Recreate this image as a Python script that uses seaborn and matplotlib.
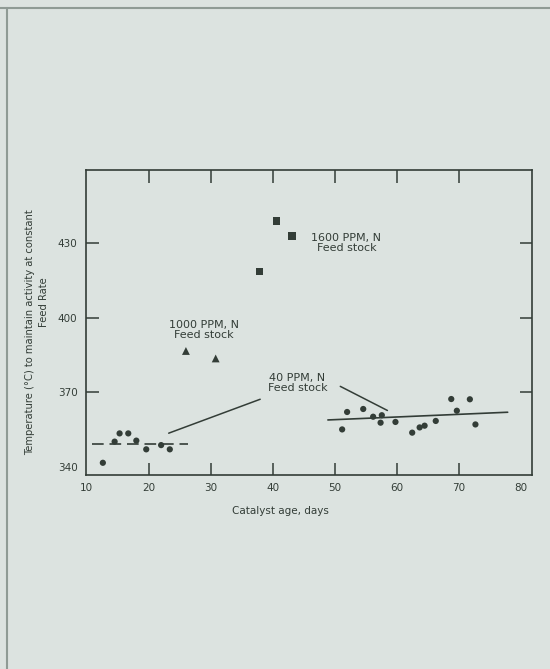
import matplotlib
matplotlib.use("Agg")
import matplotlib.pyplot as plt
import seaborn as sns
import pandas as pd
from matplotlib.lines import Line2D

# ---- data ----
ppm40_age = [12.6, 14.5, 15.3, 16.7, 18.0, 19.6, 22.0, 23.4,
             51.2, 52.0, 54.6, 56.2, 57.4, 57.6, 59.8, 62.5, 63.7, 64.5, 66.3,
             68.8, 69.7, 71.8, 72.7]
ppm40_temp = [341.7, 350.2, 353.5, 353.5, 350.6, 347.1, 348.8, 347.1,
              355.1, 362.1, 363.3, 360.2, 357.8, 360.8, 358.1, 353.8, 355.9, 356.6, 358.5,
              367.3, 362.6, 367.2, 357.1]
ppm1000_age = [26.0, 30.8]
ppm1000_temp = [386.6, 383.6]
ppm1600_age = [37.9, 40.6, 43.1]
ppm1600_temp = [418.4, 438.8, 432.8]

fit_left_age = [10.8, 26.3]
fit_left_temp = [349.4, 349.4]
fit_right_age = [48.9, 77.9]
fit_right_temp = [358.9, 362.0]

x_ticks = [10, 20, 30, 40, 50, 60, 70, 80]
y_ticks = [340, 370, 400, 430]

df = pd.DataFrame({
    "age": ppm40_age + ppm1000_age + ppm1600_age,
    "temp": ppm40_temp + ppm1000_temp + ppm1600_temp,
    "feed": ["40"] * len(ppm40_age) + ["1000"] * len(ppm1000_age) + ["1600"] * len(ppm1600_age),
})

bg = "#dce3e0"
ink = "#333d37"

sns.set_theme(style="white")
plt.rcParams["font.family"] = ["DejaVu Sans"]

fig = plt.figure(figsize=(5.5, 6.69), dpi=100, facecolor=bg)
ax = fig.add_axes([0.156, 0.290, 0.811, 0.456])
ax.set_facecolor(bg)

sns.scatterplot(data=df[df.feed == "40"], x="age", y="temp", marker="o", s=20,
                color=ink, edgecolor="none", ax=ax, legend=False)
sns.scatterplot(data=df[df.feed == "1000"], x="age", y="temp", marker="^", s=32,
                color=ink, edgecolor="none", ax=ax, legend=False)
sns.scatterplot(data=df[df.feed == "1600"], x="age", y="temp", marker="s", s=28,
                color=ink, edgecolor="none", ax=ax, legend=False)

sns.lineplot(x=fit_left_age, y=fit_left_temp, color=ink, lw=1.2,
             linestyle=(0, (7, 3.5)), ax=ax)
sns.lineplot(x=fit_right_age, y=fit_right_temp, color=ink, lw=1.2, ax=ax)

txt_kw = dict(fontsize=8, color=ink, ha="center", va="center", linespacing=1.0)
ax.text(51.9, 429.8, "1600 PPM, N\nFeed stock", **txt_kw)
ax.text(28.9, 395.0, "1000 PPM, N\nFeed stock", **txt_kw)
ax.text(44.0, 373.8, "40 PPM, N\nFeed stock", **txt_kw)

ax.annotate("", xy=(22.8, 353.2), xytext=(38.4, 367.6),
            arrowprops=dict(arrowstyle="-", color=ink, lw=1.1))
ax.annotate("", xy=(58.9, 362.2), xytext=(50.5, 372.9),
            arrowprops=dict(arrowstyle="-", color=ink, lw=1.1))

ax.set_xlim(9.85, 81.8)
ax.set_ylim(336.8, 459.3)
ax.set_xticks(x_ticks)
ax.set_yticks(y_ticks)
ax.set_xticklabels([str(v) for v in x_ticks])
ax.set_yticklabels([str(v) for v in y_ticks])
ax.tick_params(direction="in", length=9, width=1.1, color=ink, labelcolor=ink,
               labelsize=7.5, top=True, right=True, bottom=True, left=True, pad=6)
xt = ax.xaxis.get_major_ticks()
for t in (xt[0], xt[-1]):
    t.tick1line.set_visible(False)
    t.tick2line.set_visible(False)
yt = ax.yaxis.get_major_ticks()
yt[0].tick1line.set_visible(False)
yt[0].tick2line.set_visible(False)
ax.set_xlabel("")
ax.set_ylabel("")
for sp in ax.spines.values():
    sp.set_visible(True)
    sp.set_color(ink)
    sp.set_linewidth(1.2)

fig.text(280 / 550, 1 - 511 / 669, "Catalyst age, days", fontsize=7.5, color=ink,
         ha="center", va="center")
fig.text(30 / 550, 1 - 332 / 669, "Temperature (°C) to maintain activity at constant",
         fontsize=7.2, color=ink, rotation=90, ha="center", va="center")
fig.text(44 / 550, 1 - 302 / 669, "Feed Rate", fontsize=7.2, color=ink,
         rotation=90, ha="center", va="center")

# scan frame lines
fig.add_artist(Line2D([0, 1], [1 - 8 / 669, 1 - 8 / 669], transform=fig.transFigure,
                      color="#8f9b95", lw=1.5))
fig.add_artist(Line2D([7 / 550, 7 / 550], [0, 1 - 8 / 669], transform=fig.transFigure,
                      color="#8f9b95", lw=1.5))

fig.savefig("out.png", dpi=100, facecolor=bg)
